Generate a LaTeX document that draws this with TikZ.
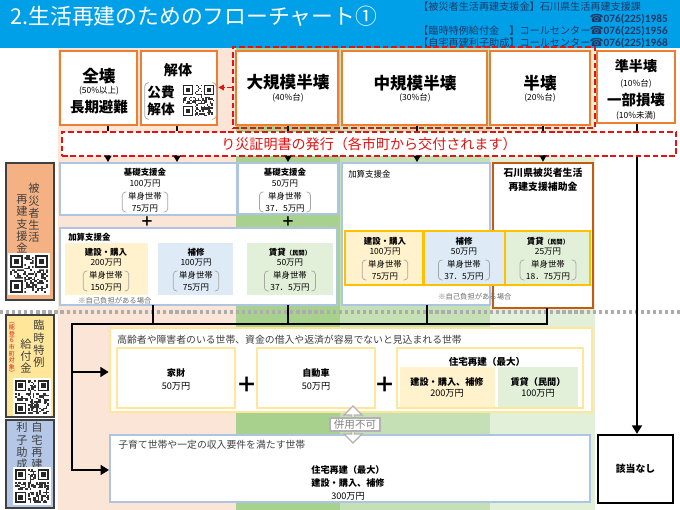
\documentclass[tikz,border=0pt]{standalone}
\usepackage{fontspec}
\setmainfont{Noto Sans CJK JP}
\newfontfamily\telfont{DejaVu Sans}
\newfontfamily\numfont{Carlito}
\usetikzlibrary{arrows.meta,shapes.arrows}

\definecolor{titleblue}{RGB}{0,160,233}
\definecolor{navy}{RGB}{32,56,100}
\definecolor{peach}{RGB}{251,229,214}
\definecolor{greenA}{RGB}{169,209,142}
\definecolor{greenB}{RGB}{197,224,180}
\definecolor{greenC}{RGB}{226,240,217}
\definecolor{orangeline}{RGB}{237,125,49}
\definecolor{brownorange}{RGB}{197,90,17}
\definecolor{certred}{RGB}{225,20,20}
\definecolor{boxblue}{RGB}{173,196,226}
\definecolor{yfill}{RGB}{255,242,204}
\definecolor{bfill}{RGB}{222,235,247}
\definecolor{gfill}{RGB}{226,240,217}
\definecolor{gold}{RGB}{255,192,0}
\definecolor{lightgold}{RGB}{255,230,153}
\definecolor{sideorange}{RGB}{244,177,131}
\definecolor{sideyellow}{RGB}{255,230,153}
\definecolor{sideblue}{RGB}{180,199,231}
\definecolor{sidegray}{RGB}{64,64,64}
\definecolor{textgray}{RGB}{64,64,64}
\definecolor{notegray}{RGB}{110,110,110}

\newdimen\px \px=0.025cm
\newcommand{\fs}[2]{\fontsize{#1}{#2}\selectfont}

% round brackets round a node
\newcommand{\kakko}[1]{%
  \draw[kakkoline] ([xshift=3pt]#1.north west) -- (#1.north west) -- (#1.south west) -- ([xshift=3pt]#1.south west);
  \draw[kakkoline] ([xshift=-3pt]#1.north east) -- (#1.north east) -- (#1.south east) -- ([xshift=-3pt]#1.south east);}

% qr pattern: top-left x, y, size, seed
\newcommand{\qrbox}[4]{%
  \pgfmathsetseed{#4}
  \begin{scope}[shift={(#1,#2)}, scale=#3/21]
    \fill[white] (-1,-1) rectangle (22,22);
    \foreach \i in {0,...,20}{\foreach \j in {0,...,20}{%
      \pgfmathrandominteger{\qb}{0}{1}%
      \ifnum\qb=1 \fill[black!80] (\i,\j) rectangle ++(1,1);\fi}}
    \fill[white] (0,0) rectangle (8,8) (13,0) rectangle (21,8) (0,13) rectangle (8,21);
    \foreach \a/\b in {0/0,14/0,0/14}{%
      \fill[black!85] (\a,\b) rectangle ++(7,7);
      \fill[white] (\a+1,\b+1) rectangle ++(5,5);
      \fill[black!85] (\a+2,\b+2) rectangle ++(3,3);}
  \end{scope}}

\begin{document}
\begin{tikzpicture}[x=0.025cm, y=-0.025cm,
    wh/.style 2 args={minimum width=#1*\px, minimum height=#2*\px, inner sep=0pt},
    obox/.style={draw=orangeline, line width=1.8pt, fill=white},
    bbox/.style={draw=boxblue, line width=1.4pt, fill=white},
    gbox/.style={draw=gold, line width=1.8pt},
    ybox/.style={draw=lightgold, line width=1.8pt, fill=white},
    side/.style={draw=sidegray, line width=1.1pt},
    reddash/.style={draw=certred, line width=1.1pt, dash pattern=on 4pt off 2pt},
    big/.style={font=\bfseries\fs{11.8}{13}, inner sep=0pt},
    pct/.style={font=\fs{6}{7}, inner sep=0pt},
    lbl/.style={font=\bfseries\fs{6}{8.3}, align=center, inner sep=0pt},
    amt/.style={font=\fs{6}{8.3}, align=center, inner sep=0pt},
    brk/.style={font=\fs{6}{8.3}, align=center, inner xsep=4pt, inner ysep=0pt},
    kakkoline/.style={draw=gray!70, line width=0.5pt, rounded corners=2.5pt},
    vtext/.style={font=\fs{8}{8.7}, align=center, inner sep=0pt, text=textgray},
    contact/.style={anchor=west, inner sep=0pt, font=\fs{7.2}{8}, text=navy},
    tel/.style={anchor=east, inner sep=0pt, font=\numfont\bfseries\fs{8}{9}, text=navy},
    head/.style={anchor=west, inner sep=0pt, font=\fs{7}{8}, text=textgray},
    note/.style={anchor=west, inner sep=0pt, font=\fs{5.2}{6}, text=notegray},
    plus/.style={font=\bfseries\fs{9.5}{10}, inner sep=0pt},
    bigplus/.style={font=\bfseries\fs{15}{15}, inner sep=0pt},
    tick/.style={line width=1.4pt},
    bus/.style={line width=1.8pt, line cap=rect},
    busarrow/.style={line width=1.8pt, -{Triangle[length=6pt,width=7pt]}},
    sarrow/.style={line width=0.8pt, -{Triangle[length=4.5pt,width=5pt]}}]
\useasboundingbox (0,0) rectangle (680,510);

% backgrounds
\fill[titleblue] (0,0) rectangle (680,48);
\fill[peach] (58,48) rectangle (236,510);
\fill[greenA] (236,48) rectangle (340,510);
\fill[greenB] (340,48) rectangle (490,510);
\fill[greenC] (490,48) rectangle (595,510);

% title and contacts
\node[anchor=west, text=white, font=\fs{15.5}{18}, inner sep=0pt] (title) at (10,16) {2.生活再建のためのフローチャート①};
\node[contact] (c1) at (418,7) {【被災者生活再建支援金】石川県生活再建支援課};
\node[tel] (t1) at (668,19) {{\telfont ☎}076(225)1985};
\node[contact] (c2) at (418,31) {【臨時特例給付金　】コールセンター};
\node[tel] (t2) at (668,31) {{\telfont ☎}076(225)1956};
\node[contact] (c3) at (418,43) {【自宅再建利子助成】コールセンター};
\node[tel] (t3) at (668,43) {{\telfont ☎}076(225)1968};

% damage levels
\node[obox, wh={77}{74}] (zenkai) at (98.5,88) {};
\node[big] (zenkaia) at (99,76) {全壊};
\node[pct] (zenkaib) at (99,91) {(50\%以上)};
\node[font=\bfseries\fs{10.3}{12}, inner sep=0pt] (zenkaic) at (99,107) {長期避難};

\node[obox, wh={76}{74}] (kaitai) at (179,88) {};
\node[font=\bfseries\fs{10}{11}, inner sep=0pt] (kaitaia) at (178,70) {解体};
\node[font=\bfseries\fs{9.7}{12}, align=center, inner sep=0pt] (kohi) at (161,101) {公費\\解体};
\node[wh={71}{36}] (kohigrp) at (180.5,101) {};
\kakko{kohigrp}
\qrbox{183}{85}{31}{11}

\node[reddash, wh={362}{81}] (redgrp) at (414,87.5) {};
\node[obox, wh={102}{74}] (daikibo) at (287,88) {};
\node[big] (daikiboa) at (288,82) {大規模半壊};
\node[pct] (daikibob) at (288,98) {(40\%台)};
\node[obox, wh={145}{74}] (chukibo) at (414.5,88) {};
\node[big] (chukiboa) at (415,83) {中規模半壊};
\node[pct] (chukibob) at (415,98) {(30\%台)};
\node[obox, wh={100}{74}] (hankai) at (540,88) {};
\node[big] (hankaia) at (540,83) {半壊};
\node[pct] (hankaib) at (540,98) {(20\%台)};

\node[obox, wh={78}{72}] (junhankai) at (636,87) {};
\node[font=\bfseries\fs{10}{11}, inner sep=0pt] (junhankaia) at (636,66) {準半壊};
\node[pct] (junhankaib) at (636,84) {(10\%台)};
\node[font=\bfseries\fs{10.3}{11}, inner sep=0pt] (ichibu) at (636,100) {一部損壊};
\node[pct] (ichibub) at (636,116) {(10\%未満)};

\node[reddash, fill=white, wh={614}{24}, text=certred, font=\fs{10}{11}] (cert) at (369,144) {り災証明書の発行（各市町から交付されます）};

% support money
\node[bbox, wh={177}{52}] (kiso1) at (148.5,189) {};
\node[lbl] (kiso1a) at (145,172) {基礎支援金};
\node[amt] (kiso1b) at (145,184) {100万円};
\node[brk] (kiso1c) at (145,202) {単身世帯\\75万円};
\kakko{kiso1c}
\node[bbox, wh={100}{51}] (kiso2) at (288,188.5) {};
\node[lbl] (kiso2a) at (285,172) {基礎支援金};
\node[amt] (kiso2b) at (285,184) {50万円};
\node[brk] (kiso2c) at (285,202) {単身世帯\\37．5万円};
\kakko{kiso2c}
\node[plus] (plus1) at (147,222) {＋};
\node[plus] (plus2) at (288,222) {＋};

\node[bbox, wh={277}{77}] (kasan1) at (198.5,266.5) {};
\node[lbl, anchor=west] (kasan1a) at (68,237) {加算支援金};
\node[wh={83}{52}, fill=yfill] (ken1) at (106.5,269) {};
\node[lbl] (ken1a) at (106,252) {建設・購入};
\node[amt] (ken1b) at (106,263) {200万円};
\node[brk] (ken1c) at (106,281) {単身世帯\\150万円};
\kakko{ken1c}
\node[wh={75}{52}, fill=bfill] (hosyu1) at (195.5,269) {};
\node[lbl] (hosyu1a) at (196,252) {補修};
\node[amt] (hosyu1b) at (196,263) {100万円};
\node[brk] (hosyu1c) at (196,281) {単身世帯\\75万円};
\kakko{hosyu1c}
\node[wh={86}{52}, fill=gfill] (chin1) at (290,269) {};
\node[lbl] (chin1a) at (290,252) {賃貸{\fs{4.5}{5}（民間）}};
\node[amt] (chin1b) at (290,263) {50万円};
\node[brk] (chin1c) at (290,281) {単身世帯\\37．5万円};
\kakko{chin1c}
\node[note] (note1) at (78,301) {※自己負担がある場合};

\node[bbox, wh={148}{142}] (kasan3) at (416,234) {};
\node[amt, anchor=west] (kasan3a) at (348,174) {加算支援金};
\node[draw=brownorange, line width=1.8pt, fill=white, wh={100}{145}] (ishikawa) at (543,235.5) {};
\node[lbl, font=\bfseries\fs{7}{10}] (ishikawaa) at (543,180) {石川県被災者生活\\再建支援補助金};
\node[gbox, fill=yfill, wh={78}{54}] (ken3) at (384,258) {};
\node[lbl] (ken3a) at (385,241) {建設・購入};
\node[amt] (ken3b) at (385,252) {100万円};
\node[brk] (ken3c) at (385,270) {単身世帯\\75万円};
\kakko{ken3c}
\node[gbox, fill=bfill, wh={81}{54}] (hosyu3) at (464.5,258) {};
\node[lbl] (hosyu3a) at (464,241) {補修};
\node[amt] (hosyu3b) at (464,252) {50万円};
\node[brk] (hosyu3c) at (464,270) {単身世帯\\37．5万円};
\kakko{hosyu3c}
\node[gbox, fill=gfill, wh={85}{54}] (chin3) at (547.5,258) {};
\node[lbl] (chin3a) at (548,241) {賃貸{\fs{4.5}{5}（民間）}};
\node[amt] (chin3b) at (548,252) {25万円};
\node[brk] (chin3c) at (548,270) {単身世帯\\18．75万円};
\kakko{chin3c}
\node[note] (note3) at (438,297) {※自己負担がある場合};

\draw[line width=2.2pt, draw=gray!65, dash pattern=on 2.3pt off 2pt] (0,312) -- (680,312);

% special benefit
\node[ybox, wh={482}{84}] (koreisha) at (351,370) {};
\node[head] (koreishaa) at (117,340) {高齢者や障害者のいる世帯、資金の借入や返済が容易でないと見込まれる世帯};
\node[ybox, line width=1.4pt, wh={118}{60}] (kazai) at (176,378) {};
\node[lbl, font=\fs{6.5}{9}] (kazaia) at (176,379.5) {\textbf{家財}\\50万円};
\node[bigplus] (plus3) at (247,385) {＋};
\node[ybox, line width=1.4pt, wh={118}{60}] (jidosha) at (316,378) {};
\node[lbl, font=\fs{6.5}{9}] (jidoshaa) at (316,379.5) {\textbf{自動車}\\50万円};
\node[bigplus] (plus4) at (385,385) {＋};
\node[ybox, line width=1.4pt, wh={186}{60}] (jutaku) at (490,378) {};
\node[lbl, font=\bfseries\fs{6.8}{8}] (jutakua) at (487,362) {住宅再建（最大）};
\node[wh={95}{40}, fill=yfill] (jken) at (447.5,387) {};
\node[lbl, font=\fs{6.5}{8}] (jkena) at (447,387.5) {\textbf{建設・購入、補修}\\200万円};
\node[wh={80}{40}, fill=gfill] (jchin) at (538,387) {};
\node[lbl, font=\fs{6.5}{8}] (jchina) at (538,387.5) {\textbf{賃貸（民間）}\\100万円};

% interest subsidy
\node[bbox, wh={480}{67}] (kosodate) at (350,468.5) {};
\node[head] (kosodatea) at (118,445) {子育て世帯や一定の収入要件を満たす世帯};
\node[align=center, font=\fs{6.5}{9.5}, inner sep=0pt] (kosodateb) at (348,483) {\textbf{住宅再建（最大）}\\\textbf{建設・購入、補修}\\300万円};

\node[double arrow, rotate=90, draw=gray!60, fill=white, line width=0.8pt, minimum height=37*\px, minimum width=18*\px, double arrow head extend=4*\px, inner sep=0pt] (heiyoarr) at (353,424.5) {};
\node[draw=gray!60, fill=white, line width=0.8pt, text=gray, font=\fs{7.5}{8}, wh={50}{13}] (heiyo) at (355,424.5) {併用不可};

\node[draw=black, line width=1.6pt, fill=white, wh={75}{68}, font=\bfseries\fs{7}{8}] (gaitou) at (635.5,469) {該当なし};

% side labels
\node[side, fill=sideorange, wh={48}{137}] (sb1) at (30,231.5) {};
\node[vtext] (sb1a) at (34,213) {被\\災\\者\\生\\活};
\node[vtext] (sb1b) at (22,224) {再\\建\\支\\援\\金};
\qrbox{10}{255}{38}{3}
\node[side, fill=sideyellow, wh={48}{102}] (sb2) at (30,366) {};
\node[inner sep=0pt, align=center, text=certred, font=\fs{4.3}{4.7}] (sb2r) at (12,349) {︵\\能\\登\\６\\市\\町\\対\\象\\︶};
\node[vtext] (sb2a) at (39,344) {臨\\時\\特\\例};
\node[vtext] (sb2b) at (26,356) {給\\付\\金};
\qrbox{15}{380}{34}{5}
\node[side, fill=sideblue, wh={48}{88}] (sb3) at (30,464) {};
\node[vtext] (sb3a) at (37,446) {自\\宅\\再\\建};
\node[vtext] (sb3b) at (22,446) {利\\子\\助\\成};
\qrbox{15}{469}{34}{7}

% connectors
\coordinate (k1) at (108,0);
\coordinate (k2) at (177,0);
\coordinate (k3) at (288,0);
\coordinate (k4) at (417,0);
\coordinate (k5) at (543,0);
\coordinate (k6) at (637,0);
\draw[tick] (zenkai.south -| k1) -- (cert.north -| k1);
\draw[tick] (kaitai.south -| k2) -- (cert.north -| k2);
\draw[tick] (daikibo.south -| k3) -- (cert.north -| k3);
\draw[tick] (chukibo.south -| k4) -- (cert.north -| k4);
\draw[tick] (hankai.south -| k5) -- (cert.north -| k5);
\draw[tick] (junhankai.south -| k6) -- (cert.north -| k6);
\draw[reddash, -{Triangle[length=4pt,width=4pt]}] (redgrp.west) -- (redgrp.west -| kaitai.east);

\draw[sarrow] (cert.south -| k1) -- (kiso1.north -| k1);
\draw[sarrow] (cert.south -| k2) -- (kiso1.north -| k2);
\draw[sarrow] (cert.south -| k3) -- (kiso2.north -| k3);
\draw[sarrow] (cert.south -| k4) -- (kasan3.north -| k4);
\draw[sarrow] (cert.south -| k5) -- (ishikawa.north -| k5);
\draw[busarrow] (cert.south -| k6) -- (gaitou.north -| k6);

\coordinate (b0) at (72,324);
\coordinate (b1) at (153,324);
\coordinate (b2) at (288,324);
\coordinate (b3) at (427,324);
\coordinate (b4) at (547,324);
\coordinate (a1) at (72,372);
\coordinate (a2) at (72,470);
\draw[bus] (kasan1.south -| b1) -- (b1);
\draw[bus] (kasan1.south -| b2) -- (b2);
\draw[bus] (kasan3.south -| b3) -- (b3);
\draw[bus] (ishikawa.south -| b4) -- (b4) -- (b0) -- (a2);
\draw[busarrow] (a1) -- (a1 -| koreisha.west);
\draw[busarrow] (a2) -- (a2 -| kosodate.west);
\end{tikzpicture}
\end{document}
